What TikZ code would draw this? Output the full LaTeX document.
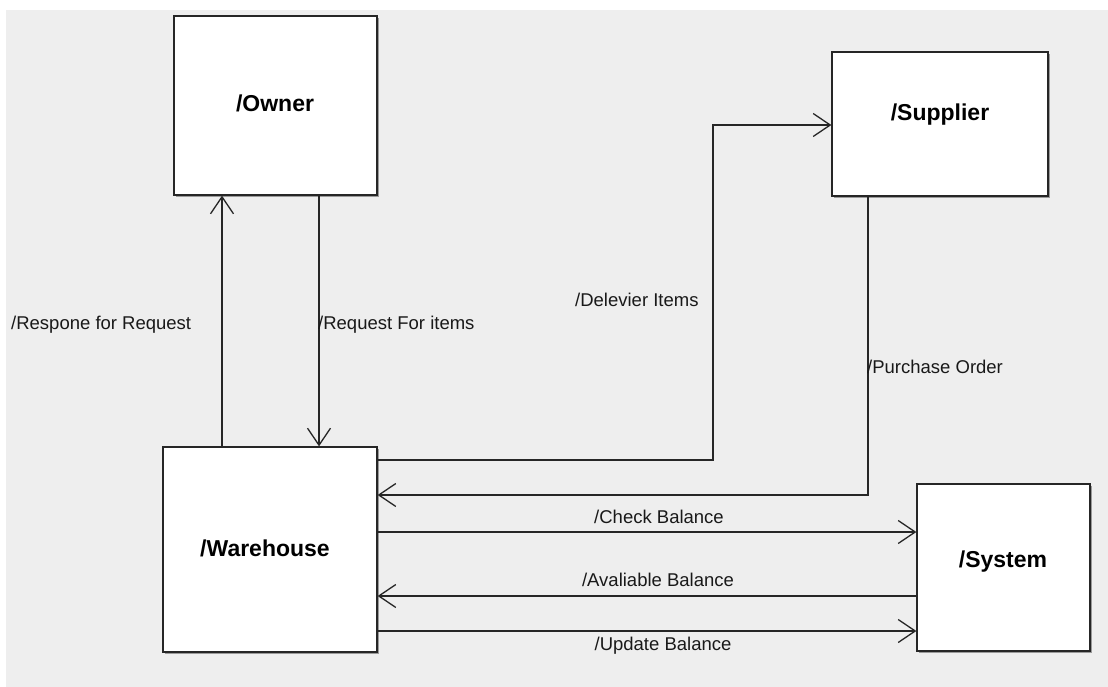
\documentclass[tikz,border=0pt]{standalone}
\usepackage{fontspec}
\setmainfont{Liberation Sans}
\usetikzlibrary{arrows.meta,shadows}
\definecolor{canvas}{HTML}{EEEEEE}
\tikzset{
  entity/.style={draw=black!85, line width=1.3pt, fill=white, inner sep=0pt,
    drop shadow={shadow xshift=1.8pt, shadow yshift=-1.8pt, opacity=0.35, fill=black}},
  title/.style={font=\fontsize{23}{26}\selectfont\bfseries, inner sep=0pt},
  flowlabel/.style={font=\fontsize{18.5}{22}\selectfont, inner sep=0pt, text=black!90},
  arr/.style={draw=black!85, line width=1.3pt,
    -{Straight Barb[length=17pt, width=23pt, line width=1.3pt]}}
}
\begin{document}
\begin{tikzpicture}[x=1pt, y=-1pt]
  % page and canvas
  \useasboundingbox (0,0) rectangle (1108,687);
  \fill[white] (0,0) rectangle (1108,687);
  \fill[canvas] (6,10) rectangle (1108,687);

  % entities
  \node[entity, minimum width=203pt, minimum height=179pt] (owner) at (275.5,105.5) {};
  \node[entity, minimum width=216pt, minimum height=144pt] (sup) at (940,124) {};
  \node[entity, minimum width=214pt, minimum height=205pt] (wh) at (270,549.5) {};
  \node[entity, minimum width=173pt, minimum height=167pt] (sys) at (1003.5,567.5) {};

  \node[title] (towner) at (275,103) {/Owner};
  \node[title] (tsup) at (940,115) {/Supplier};
  \node[title] (twh) at (265,548) {/Warehouse};
  \node[title] (tsys) at (1003,562) {/System};

  % routing guides
  \coordinate (xa) at (222,0);
  \coordinate (xb) at (319,0);
  \coordinate (xc) at (713,0);
  \coordinate (xd) at (868,0);
  \coordinate (ya) at (0,460);
  \coordinate (yb) at (0,125);
  \coordinate (yc) at (0,495);
  \coordinate (y1) at (0,532);
  \coordinate (y2) at (0,596);
  \coordinate (y3) at (0,631);

  % flows
  \draw[arr] (wh.north -| xa) -- (owner.south -| xa);
  \draw[arr] (owner.south -| xb) -- (wh.north -| xb);
  \draw[arr] (wh.east |- ya) -| (xc |- yb) -- (sup.west |- yb);
  \draw[arr] (sup.south -| xd) |- (wh.east |- yc);
  \draw[arr] (wh.east |- y1) -- (sys.west |- y1);
  \draw[arr] (sys.west |- y2) -- (wh.east |- y2);
  \draw[arr] (wh.east |- y3) -- (sys.west |- y3);

  % flow labels
  \node[flowlabel, anchor=west] (l1) at (11,325) {/Respone for Request};
  \node[flowlabel, anchor=west] (l2) at (318,325) {/Request For items};
  \node[flowlabel, anchor=west] (l3) at (575,300) {/Delevier Items};
  \node[flowlabel, anchor=west] (l4) at (867,367) {/Purchase Order};
  \node[flowlabel] (l5) at (659,517) {/Check Balance};
  \node[flowlabel] (l6) at (658,580) {/Avaliable Balance};
  \node[flowlabel] (l7) at (663,646) {/Update Balance};
\end{tikzpicture}
\end{document}
